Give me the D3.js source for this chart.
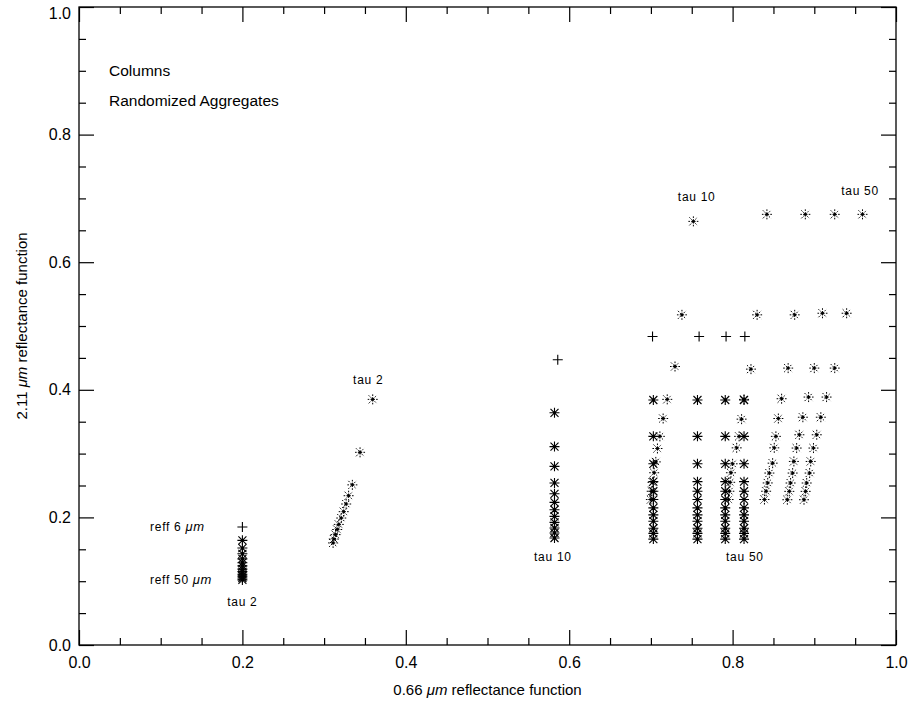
<!DOCTYPE html>
<html>
<head>
<meta charset="utf-8">
<script src="https://cdn.jsdelivr.net/npm/d3@7"></script>
<style>
body { margin: 0; background: #fff; }
svg text { font-family: "Liberation Sans", Arial, sans-serif; fill: #000; }
</style>
</head>
<body>
<div class="vis"></div>
<script>
// axis ticks
const majorTicks = [0, 0.2, 0.4, 0.6, 0.8, 1.0];
const minorTicks = [0.05, 0.1, 0.15, 0.25, 0.3, 0.35, 0.45, 0.5, 0.55, 0.65, 0.7, 0.75, 0.85, 0.9, 0.95];

// "Columns" - vertical runs, the + is the reff 6 um point
const colX     = [0.2, 0.582, 0.703, 0.757, 0.791, 0.814];
const colPlusX = [0.2, 0.586, 0.702, 0.759, 0.792, 0.815];
const colPlusY = [0.185, 0.447, 0.4835, 0.4835, 0.4835, 0.4835];
const colTau2  = [0.164, 0.152, 0.143, 0.135, 0.129, 0.124, 0.119, 0.115, 0.111, 0.108, 0.105, 0.102];
const colTau10 = [0.364, 0.311, 0.280, 0.254, 0.237, 0.2235, 0.212, 0.2016, 0.1922, 0.1834, 0.1756, 0.1677];
const colR1    = [0.384, 0.327, 0.284, 0.256, 0.241, 0.228, 0.215, 0.204, 0.194, 0.183, 0.175, 0.166];
const colR2    = [0.384, 0.327, 0.284, 0.256, 0.241, 0.228, 0.215, 0.204, 0.194, 0.183, 0.175, 0.166];
const colR3    = [0.384, 0.327, 0.284, 0.256, 0.241, 0.228, 0.215, 0.204, 0.194, 0.183, 0.175, 0.166];
const colR4    = [0.384, 0.327, 0.284, 0.256, 0.241, 0.228, 0.215, 0.204, 0.194, 0.183, 0.175, 0.166];
const colStars = [colTau2, colTau10, colR1, colR2, colR3, colR4];

// "Randomized Aggregates" - slanted runs
const aggTau2X = [0.3595, 0.344, 0.3346, 0.330, 0.327, 0.324, 0.321, 0.318, 0.316, 0.314, 0.312, 0.311];
const aggTau2Y = [0.385, 0.302, 0.251, 0.234, 0.221, 0.209, 0.199, 0.189, 0.181, 0.173, 0.166, 0.160];
const aggA_X = [0.752, 0.738, 0.7295, 0.720, 0.715, 0.711, 0.708, 0.706, 0.704, 0.702, 0.701, 0.700];
const aggA_Y = [0.664, 0.5175, 0.4365, 0.385, 0.355, 0.327, 0.308, 0.287, 0.270, 0.255, 0.241, 0.228];
const aggB_X = [0.842, 0.830, 0.8225, 0.814, 0.811, 0.808, 0.805, 0.800, 0.798, 0.797, 0.796, 0.795];
const aggB_Y = [0.675, 0.5175, 0.4324, 0.385, 0.354, 0.327, 0.309, 0.284, 0.270, 0.255, 0.241, 0.228];
const aggC_X = [0.889, 0.876, 0.868, 0.860, 0.856, 0.853, 0.851, 0.849, 0.845, 0.843, 0.841, 0.839];
const aggC_Y = [0.675, 0.5175, 0.434, 0.386, 0.355, 0.327, 0.309, 0.285, 0.2695, 0.254, 0.241, 0.228];
const aggD_X = [0.925, 0.910, 0.900, 0.893, 0.886, 0.8817, 0.8784, 0.875, 0.8735, 0.871, 0.8694, 0.867];
const aggD_Y = [0.675, 0.520, 0.434, 0.3886, 0.357, 0.3295, 0.3087, 0.2877, 0.2695, 0.2539, 0.2408, 0.2277];
const aggE_X = [0.959, 0.9396, 0.925, 0.915, 0.908, 0.903, 0.899, 0.8956, 0.8943, 0.8907, 0.8894, 0.8874];
const aggE_Y = [0.675, 0.520, 0.434, 0.3886, 0.357, 0.3295, 0.3087, 0.2877, 0.2695, 0.2539, 0.2408, 0.2277];
const aggXs = [aggTau2X, aggA_X, aggB_X, aggC_X, aggD_X, aggE_X];
const aggYs = [aggTau2Y, aggA_Y, aggB_Y, aggC_Y, aggD_Y, aggE_Y];

// annotations in data coords
const noteText   = ["reff 6 ", "reff 50 ", "tau 2", "tau 2", "tau 10", "tau 10", "tau 50", "tau 50"];
const noteMicron = [true, true, false, false, false, false, false, false];
const noteX      = [0.154, 0.163, 0.2, 0.354, 0.58, 0.756, 0.956, 0.815];
const noteY      = [0.185, 0.1025, 0.068, 0.415, 0.138, 0.702, 0.711, 0.138];
const noteAnchor = ["end", "end", "middle", "middle", "middle", "middle", "middle", "middle"];

const legendLines = ["Columns", "Randomized Aggregates"];

const W = 916, H = 710;
const x = d3.scaleLinear().domain([0, 1]).range([79, 896]);
const y = d3.scaleLinear().domain([0, 1]).range([645, 7]);

const svg = d3.select(".vis").append("svg").attr("width", W).attr("height", H);

// frame
svg.append("rect")
    .attr("x", x(0)).attr("y", y(1))
    .attr("width", x(1) - x(0)).attr("height", y(0) - y(1))
    .attr("fill", "none").attr("stroke", "#000").attr("stroke-width", 1.3)

const fmt = d3.format(".1f")
const addAxis = (axis, tr, vals, size, pad) => {
    const g = svg.append("g").attr("transform", tr)
        .call(axis.tickValues(vals).tickSize(size).tickPadding(pad || 0)
            .tickFormat(pad ? fmt : ""))
    g.select(".domain").remove()
    g.selectAll("line").attr("stroke", "#000").attr("stroke-width", 1.2)
    g.selectAll("text").style("font-size", "16px").style("font-family", "Liberation Sans, Arial, sans-serif")
    return g
}
addAxis(d3.axisBottom(x), `translate(0,${y(0)})`, majorTicks, -15, 12)
addAxis(d3.axisBottom(x), `translate(0,${y(0)})`, minorTicks, -7)
addAxis(d3.axisTop(x), `translate(0,${y(1)})`, majorTicks, -15)
addAxis(d3.axisTop(x), `translate(0,${y(1)})`, minorTicks, -7)
const yl = addAxis(d3.axisLeft(y), `translate(${x(0)},0)`, majorTicks, -15, 8)
addAxis(d3.axisLeft(y), `translate(${x(0)},0)`, minorTicks, -7)
addAxis(d3.axisRight(y), `translate(${x(1)},0)`, majorTicks, -15)
addAxis(d3.axisRight(y), `translate(${x(1)},0)`, minorTicks, -7)
// top label pushed down so it stays on the page
yl.selectAll(".tick").filter(d => d === 1).select("text").attr("y", 6)

// axis titles
const xt = svg.append("text").attr("x", (x(0) + x(1)) / 2).attr("y", 695)
    .attr("text-anchor", "middle").style("font-size", "15px")
xt.append("tspan").text("0.66 ")
xt.append("tspan").style("font-style", "italic").text("μm")
xt.append("tspan").text(" reflectance function")

const yt = svg.append("text").attr("transform", `translate(27,${(y(0) + y(1)) / 2}) rotate(-90)`)
    .attr("text-anchor", "middle").style("font-size", "15px")
yt.append("tspan").text("2.11 ")
yt.append("tspan").style("font-style", "italic").text("μm")
yt.append("tspan").text(" reflectance function")

// legend text
svg.selectAll("text.legend").data(legendLines).enter().append("text")
    .attr("class", "legend")
    .attr("x", 109).attr("y", (d, i) => 76 + i * 30)
    .style("font-size", "15.5px")
    .text(d => d)

// markers
const s = 5, a = 4;
const starPath = `M${-s},0H${s}M0,${-s}V${s}M${-a},${-a}L${a},${a}M${-a},${a}L${a},${-a}`;
const plusPath = `M${-s},0H${s}M0,${-s}V${s}`;

const colPts = [], plusPts = [], aggPts = [];
colX.forEach((cx, i) => {
    plusPts.push([colPlusX[i], colPlusY[i]])
    colStars[i].forEach(v => colPts.push([cx, v]))
})
aggXs.forEach((xs, i) => xs.forEach((v, j) => aggPts.push([v, aggYs[i][j]])))

const marks = svg.append("g")
marks.selectAll("path.plus").data(plusPts).enter().append("path")
    .attr("class", "plus")
    .attr("transform", d => `translate(${x(d[0])},${y(d[1])})`)
    .attr("d", plusPath).attr("stroke", "#000").attr("stroke-width", 1.1).attr("fill", "none")

marks.selectAll("path.col").data(colPts).enter().append("path")
    .attr("class", "col")
    .attr("transform", d => `translate(${x(d[0])},${y(d[1])})`)
    .attr("d", starPath).attr("stroke", "#000").attr("stroke-width", 1.1).attr("fill", "none")

marks.selectAll("path.agg").data(aggPts).enter().append("path")
    .attr("class", "agg")
    .attr("transform", d => `translate(${x(d[0])},${y(d[1])})`)
    .attr("d", starPath).attr("stroke", "#000").attr("stroke-width", 1)
    .attr("stroke-dasharray", "1.6 1.2").attr("fill", "none")

marks.selectAll("circle.dot").data(colPts.concat(aggPts)).enter().append("circle")
    .attr("class", "dot")
    .attr("cx", d => x(d[0])).attr("cy", d => y(d[1])).attr("r", 1.4).attr("fill", "#000")

// annotations
noteText.forEach((t, i) => {
    const el = svg.append("text").attr("x", x(noteX[i])).attr("y", y(noteY[i]) + 4)
        .attr("text-anchor", noteAnchor[i]).style("font-size", "12px")
        .style("letter-spacing", "0.7px")
    el.append("tspan").text(t)
    if (noteMicron[i]) el.append("tspan").style("font-style", "italic").style("font-size", "13px").text("μm")
})
</script>
</body>
</html>
